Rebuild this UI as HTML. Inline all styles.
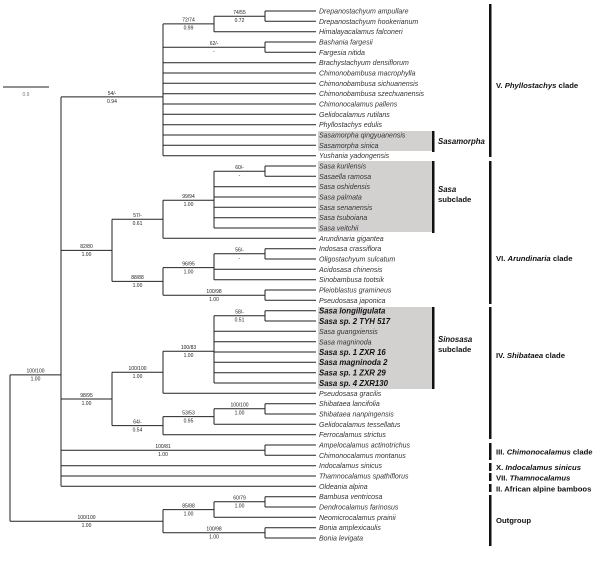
<!DOCTYPE html>
<html><head><meta charset="utf-8"><style>
html,body{margin:0;padding:0;background:#fff;}
svg{display:block;}
.t{font-family:"Liberation Sans",sans-serif;font-size:7px;font-style:italic;fill:#333;}
.b{font-family:"Liberation Sans",sans-serif;font-size:7.8px;font-style:italic;font-weight:bold;fill:#111;}
.n{font-family:"Liberation Sans",sans-serif;font-size:5px;fill:#222;text-anchor:middle;}
.c{font-family:"Liberation Sans",sans-serif;font-size:7.7px;font-weight:bold;fill:#111;}
</style></head><body>
<svg width="600" height="563" viewBox="0 0 600 563" xmlns="http://www.w3.org/2000/svg">
<rect x="318" y="131" width="114" height="20" fill="#d3d0d0"/>
<rect x="318" y="161" width="114" height="71" fill="#d3d0d0"/>
<rect x="318" y="307" width="114" height="82" fill="#d3d0d0"/>
<g stroke="#222" stroke-width="1" fill="none">
<line x1="3" y1="87" x2="49" y2="87"/>
<line x1="10" y1="374.9" x2="10" y2="521.2"/>
<line x1="61" y1="96.9" x2="61" y2="486.3"/>
<line x1="163" y1="23.9" x2="163" y2="155.7"/>
<line x1="214" y1="16.2" x2="214" y2="31.7"/>
<line x1="265" y1="11" x2="265" y2="21.3"/>
<line x1="265" y1="42" x2="265" y2="52.3"/>
<line x1="112" y1="219.3" x2="112" y2="281.4"/>
<line x1="163" y1="200.3" x2="163" y2="238.3"/>
<line x1="214" y1="171.2" x2="214" y2="228"/>
<line x1="265" y1="166" x2="265" y2="176.3"/>
<line x1="163" y1="267.6" x2="163" y2="295.2"/>
<line x1="214" y1="253.8" x2="214" y2="279.7"/>
<line x1="265" y1="248.7" x2="265" y2="259"/>
<line x1="265" y1="290" x2="265" y2="300.3"/>
<line x1="112" y1="372.3" x2="112" y2="425.6"/>
<line x1="163" y1="351.3" x2="163" y2="393.3"/>
<line x1="214" y1="315.8" x2="214" y2="383"/>
<line x1="265" y1="310.7" x2="265" y2="321"/>
<line x1="163" y1="416.6" x2="163" y2="434.7"/>
<line x1="214" y1="408.8" x2="214" y2="424.3"/>
<line x1="265" y1="403.7" x2="265" y2="414"/>
<line x1="265" y1="445" x2="265" y2="455.3"/>
<line x1="163" y1="509.6" x2="163" y2="532.8"/>
<line x1="214" y1="501.8" x2="214" y2="517.3"/>
<line x1="265" y1="496.7" x2="265" y2="507"/>
<line x1="265" y1="527.7" x2="265" y2="538"/>
<line x1="214" y1="16.2" x2="265" y2="16.2"/>
<line x1="163" y1="23.9" x2="214" y2="23.9"/>
<line x1="163" y1="47.2" x2="265" y2="47.2"/>
<line x1="61" y1="96.9" x2="163" y2="96.9"/>
<line x1="214" y1="171.2" x2="265" y2="171.2"/>
<line x1="163" y1="200.3" x2="214" y2="200.3"/>
<line x1="112" y1="219.3" x2="163" y2="219.3"/>
<line x1="214" y1="253.8" x2="265" y2="253.8"/>
<line x1="163" y1="267.6" x2="214" y2="267.6"/>
<line x1="163" y1="295.2" x2="265" y2="295.2"/>
<line x1="112" y1="281.4" x2="163" y2="281.4"/>
<line x1="61" y1="250.4" x2="112" y2="250.4"/>
<line x1="214" y1="315.8" x2="265" y2="315.8"/>
<line x1="163" y1="351.3" x2="214" y2="351.3"/>
<line x1="112" y1="372.3" x2="163" y2="372.3"/>
<line x1="214" y1="408.8" x2="265" y2="408.8"/>
<line x1="163" y1="416.6" x2="214" y2="416.6"/>
<line x1="112" y1="425.6" x2="163" y2="425.6"/>
<line x1="61" y1="399" x2="112" y2="399"/>
<line x1="61" y1="450.2" x2="265" y2="450.2"/>
<line x1="10" y1="374.9" x2="61" y2="374.9"/>
<line x1="214" y1="501.8" x2="265" y2="501.8"/>
<line x1="163" y1="509.6" x2="214" y2="509.6"/>
<line x1="163" y1="532.8" x2="265" y2="532.8"/>
<line x1="10" y1="521.2" x2="163" y2="521.2"/>
<line x1="265" y1="11" x2="316" y2="11"/>
<line x1="265" y1="21.3" x2="316" y2="21.3"/>
<line x1="214" y1="31.7" x2="316" y2="31.7"/>
<line x1="265" y1="42" x2="316" y2="42"/>
<line x1="265" y1="52.3" x2="316" y2="52.3"/>
<line x1="163" y1="62.7" x2="316" y2="62.7"/>
<line x1="163" y1="73" x2="316" y2="73"/>
<line x1="163" y1="83.3" x2="316" y2="83.3"/>
<line x1="163" y1="93.7" x2="316" y2="93.7"/>
<line x1="163" y1="104" x2="316" y2="104"/>
<line x1="163" y1="114.3" x2="316" y2="114.3"/>
<line x1="163" y1="124.7" x2="316" y2="124.7"/>
<line x1="163" y1="135" x2="316" y2="135"/>
<line x1="163" y1="145.3" x2="316" y2="145.3"/>
<line x1="163" y1="155.7" x2="316" y2="155.7"/>
<line x1="265" y1="166" x2="316" y2="166"/>
<line x1="265" y1="176.3" x2="316" y2="176.3"/>
<line x1="214" y1="186.7" x2="316" y2="186.7"/>
<line x1="214" y1="197" x2="316" y2="197"/>
<line x1="214" y1="207.3" x2="316" y2="207.3"/>
<line x1="214" y1="217.7" x2="316" y2="217.7"/>
<line x1="214" y1="228" x2="316" y2="228"/>
<line x1="163" y1="238.3" x2="316" y2="238.3"/>
<line x1="265" y1="248.7" x2="316" y2="248.7"/>
<line x1="265" y1="259" x2="316" y2="259"/>
<line x1="214" y1="269.3" x2="316" y2="269.3"/>
<line x1="214" y1="279.7" x2="316" y2="279.7"/>
<line x1="265" y1="290" x2="316" y2="290"/>
<line x1="265" y1="300.3" x2="316" y2="300.3"/>
<line x1="265" y1="310.7" x2="316" y2="310.7"/>
<line x1="265" y1="321" x2="316" y2="321"/>
<line x1="214" y1="331.3" x2="316" y2="331.3"/>
<line x1="214" y1="341.7" x2="316" y2="341.7"/>
<line x1="214" y1="352" x2="316" y2="352"/>
<line x1="214" y1="362.3" x2="316" y2="362.3"/>
<line x1="214" y1="372.7" x2="316" y2="372.7"/>
<line x1="214" y1="383" x2="316" y2="383"/>
<line x1="163" y1="393.3" x2="316" y2="393.3"/>
<line x1="265" y1="403.7" x2="316" y2="403.7"/>
<line x1="265" y1="414" x2="316" y2="414"/>
<line x1="214" y1="424.3" x2="316" y2="424.3"/>
<line x1="163" y1="434.7" x2="316" y2="434.7"/>
<line x1="265" y1="445" x2="316" y2="445"/>
<line x1="265" y1="455.3" x2="316" y2="455.3"/>
<line x1="61" y1="465.7" x2="316" y2="465.7"/>
<line x1="61" y1="476" x2="316" y2="476"/>
<line x1="61" y1="486.3" x2="316" y2="486.3"/>
<line x1="265" y1="496.7" x2="316" y2="496.7"/>
<line x1="265" y1="507" x2="316" y2="507"/>
<line x1="214" y1="517.3" x2="316" y2="517.3"/>
<line x1="265" y1="527.7" x2="316" y2="527.7"/>
<line x1="265" y1="538" x2="316" y2="538"/>
</g>
<g fill="#111">
<rect x="432" y="131" width="2.5" height="21"/>
<rect x="432" y="161" width="2.5" height="72"/>
<rect x="432" y="307" width="2.5" height="82"/>
<rect x="489" y="4" width="2.5" height="153"/>
<rect x="489" y="161" width="2.5" height="143"/>
<rect x="489" y="307" width="2.5" height="132"/>
<rect x="489" y="443" width="2.5" height="17"/>
<rect x="489" y="463" width="2.5" height="8"/>
<rect x="489" y="473" width="2.5" height="8"/>
<rect x="489" y="484" width="2.5" height="8"/>
<rect x="489" y="495" width="2.5" height="51"/>
</g>
<text x="26" y="96" class="n" style="fill:#777">0.9</text>
<g class="n">
<text x="239.5" y="14">74/55</text><text x="239.5" y="22">0.72</text>
<text x="188.5" y="21.5">72/74</text><text x="188.5" y="29.5">0.99</text>
<text x="214" y="45">62/-</text><text x="214" y="53">-</text>
<text x="112" y="95">54/-</text><text x="112" y="103">0.94</text>
<text x="239.5" y="169">60/-</text><text x="239.5" y="177">-</text>
<text x="188.5" y="198">99/94</text><text x="188.5" y="206">1.00</text>
<text x="137.5" y="217">57/-</text><text x="137.5" y="225">0.61</text>
<text x="239.5" y="251.5">56/-</text><text x="239.5" y="259.5">-</text>
<text x="188.5" y="265.5">96/95</text><text x="188.5" y="273.5">1.00</text>
<text x="214" y="293">100/98</text><text x="214" y="301">1.00</text>
<text x="137.5" y="279">88/88</text><text x="137.5" y="287">1.00</text>
<text x="86.5" y="248">82/80</text><text x="86.5" y="256">1.00</text>
<text x="239.5" y="313.5">58/-</text><text x="239.5" y="321.5">0.51</text>
<text x="188.5" y="349">100/83</text><text x="188.5" y="357">1.00</text>
<text x="137.5" y="370">100/100</text><text x="137.5" y="378">1.00</text>
<text x="239.5" y="406.5">100/100</text><text x="239.5" y="414.5">1.00</text>
<text x="188.5" y="414.5">53/53</text><text x="188.5" y="422.5">0.95</text>
<text x="137.5" y="423.5">64/-</text><text x="137.5" y="431.5">0.54</text>
<text x="86.5" y="397">98/95</text><text x="86.5" y="405">1.00</text>
<text x="163" y="448">100/81</text><text x="163" y="456">1.00</text>
<text x="35.5" y="372.5">100/100</text><text x="35.5" y="380.5">1.00</text>
<text x="239.5" y="499.5">60/79</text><text x="239.5" y="507.5">1.00</text>
<text x="188.5" y="507.5">85/88</text><text x="188.5" y="515.5">1.00</text>
<text x="214" y="530.5">100/98</text><text x="214" y="538.5">1.00</text>
<text x="86.5" y="519">100/100</text><text x="86.5" y="527">1.00</text>
</g>
<g class="t">
<text x="319" y="13.5">Drepanostachyum ampullare</text>
<text x="319" y="23.8">Drepanostachyum hookerianum</text>
<text x="319" y="34.2">Himalayacalamus falconeri</text>
<text x="319" y="44.5">Bashania fargesii</text>
<text x="319" y="54.8">Fargesia nitida</text>
<text x="319" y="65.2">Brachystachyum densiflorum</text>
<text x="319" y="75.5">Chimonobambusa macrophylla</text>
<text x="319" y="85.8">Chimonobambusa sichuanensis</text>
<text x="319" y="96.2">Chimonobambusa szechuanensis</text>
<text x="319" y="106.5">Chimonocalamus pallens</text>
<text x="319" y="116.8">Gelidocalamus rutilans</text>
<text x="319" y="127.2">Phyllostachys edulis</text>
<text x="319" y="137.5">Sasamorpha qingyuanensis</text>
<text x="319" y="147.8">Sasamorpha sinica</text>
<text x="319" y="158.2">Yushania yadongensis</text>
<text x="319" y="168.5">Sasa kurilensis</text>
<text x="319" y="178.8">Sasaella ramosa</text>
<text x="319" y="189.2">Sasa oshidensis</text>
<text x="319" y="199.5">Sasa palmata</text>
<text x="319" y="209.8">Sasa senanensis</text>
<text x="319" y="220.2">Sasa tsuboiana</text>
<text x="319" y="230.5">Sasa veitchii</text>
<text x="319" y="240.8">Arundinaria gigantea</text>
<text x="319" y="251.2">Indosasa crassiflora</text>
<text x="319" y="261.5">Oligostachyum sulcatum</text>
<text x="319" y="271.8">Acidosasa chinensis</text>
<text x="319" y="282.2">Sinobambusa tootsik</text>
<text x="319" y="292.5">Pleioblastus gramineus</text>
<text x="319" y="302.8">Pseudosasa japonica</text>
<text x="319" y="334">Sasa guangxiensis</text>
<text x="319" y="344.4">Sasa magninoda</text>
<text x="319" y="395.8">Pseudosasa gracilis</text>
<text x="319" y="406.2">Shibataea lancifolia</text>
<text x="319" y="416.5">Shibataea nanpingensis</text>
<text x="319" y="426.8">Gelidocalamus tessellatus</text>
<text x="319" y="437.2">Ferrocalamus strictus</text>
<text x="319" y="447.5">Ampelocalamus actinotrichus</text>
<text x="319" y="457.8">Chimonocalamus montanus</text>
<text x="319" y="468.2">Indocalamus sinicus</text>
<text x="319" y="478.5">Thamnocalamus spathiflorus</text>
<text x="319" y="488.8">Oldeania alpina</text>
<text x="319" y="499.2">Bambusa ventricosa</text>
<text x="319" y="509.5">Dendrocalamus farinosus</text>
<text x="319" y="519.8">Neomicrocalamus prainii</text>
<text x="319" y="530.2">Bonia amplexicaulis</text>
<text x="319" y="540.5">Bonia levigata</text>
</g>
<g class="b">
<text x="319" y="313.5">Sasa longiligulata</text>
<text x="319" y="323.8">Sasa sp. 2 TYH 517</text>
<text x="319" y="354.8">Sasa sp. 1 ZXR 16</text>
<text x="319" y="365.1">Sasa magninoda 2</text>
<text x="319" y="375.5">Sasa sp. 1 ZXR 29</text>
<text x="319" y="385.8">Sasa sp. 4 ZXR130</text>
<text x="438" y="144">Sasamorpha</text>
<text x="438" y="192">Sasa</text>
<text x="438" y="342">Sinosasa</text>
</g>
<g class="c">
<text x="438" y="202">subclade</text>
<text x="438" y="352">subclade</text>
<text x="496" y="88">V. <tspan font-style="italic">Phyllostachys</tspan> clade</text>
<text x="496" y="261">VI. <tspan font-style="italic">Arundinaria</tspan> clade</text>
<text x="496" y="358">IV. <tspan font-style="italic">Shibataea</tspan> clade</text>
<text x="496" y="454.5">III. <tspan font-style="italic">Chimonocalamus</tspan> clade</text>
<text x="496" y="470">X. <tspan font-style="italic">Indocalamus sinicus</tspan></text>
<text x="496" y="480.5">VII. <tspan font-style="italic">Thamnocalamus</tspan></text>
<text x="496" y="491.5">II. African alpine bamboos</text>
<text x="496" y="523">Outgroup</text>
</g>
</svg>
</body></html>
